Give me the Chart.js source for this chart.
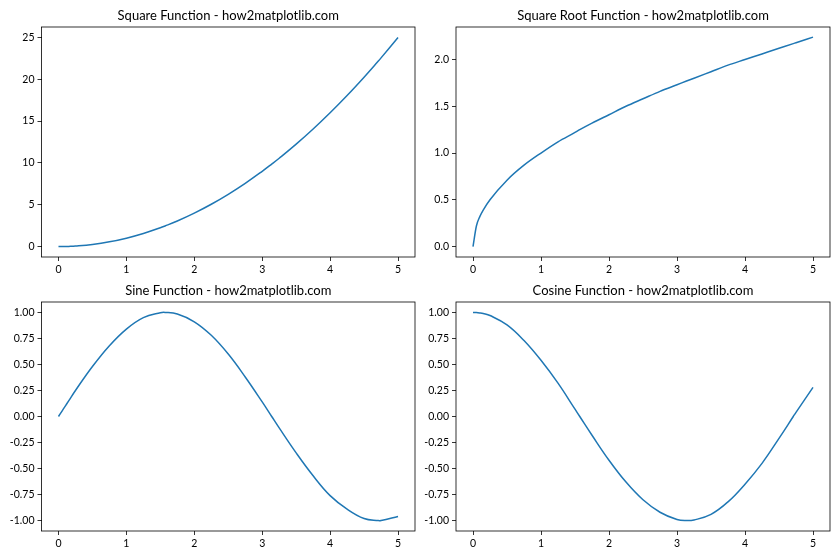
<!DOCTYPE html>
<html>
<head>
<meta charset="utf-8">
<script src="https://cdn.jsdelivr.net/npm/chart.js@4"></script>
<style>
  html, body { margin: 0; padding: 0; background: #fff; }
  #wrap { position: relative; width: 840px; height: 560px; }
  canvas { position: absolute; }
</style>
</head>
<body>
<div id="wrap">
  <canvas id="c1" width="420" height="280" style="left:0;top:0"></canvas>
  <canvas id="c2" width="420" height="280" style="left:420px;top:0"></canvas>
  <canvas id="c3" width="420" height="280" style="left:0;top:280px"></canvas>
  <canvas id="c4" width="420" height="280" style="left:420px;top:280px"></canvas>
</div>
<script>
// values
const xValues = [0, 0.05, 0.1, 0.15, 0.25, 0.5, 0.75, 1, 1.25, 1.5, 1.57, 1.75, 2, 2.25, 2.5, 2.75, 3, 3.14, 3.25, 3.5, 3.75, 4, 4.25, 4.5, 4.71, 4.75, 5];
const squareValues = [0, 0.0025, 0.01, 0.02, 0.06, 0.25, 0.56, 1, 1.56, 2.25, 2.46, 3.06, 4, 5.06, 6.25, 7.56, 9, 9.86, 10.56, 12.25, 14.06, 16, 18.06, 20.25, 22.18, 22.56, 25];
const sqrtValues = [0, 0.22, 0.32, 0.39, 0.5, 0.71, 0.87, 1, 1.12, 1.22, 1.25, 1.32, 1.41, 1.5, 1.58, 1.66, 1.73, 1.77, 1.8, 1.87, 1.94, 2, 2.06, 2.12, 2.17, 2.18, 2.24];
const sineValues = [0, 0.05, 0.1, 0.15, 0.25, 0.48, 0.68, 0.84, 0.95, 0.997, 1.0, 0.984, 0.91, 0.78, 0.6, 0.38, 0.14, 0.0, -0.11, -0.35, -0.57, -0.76, -0.89, -0.98, -1.0, -0.999, -0.96];
const cosineValues = [1, 0.999, 0.995, 0.989, 0.97, 0.88, 0.73, 0.54, 0.32, 0.07, 0.0, -0.18, -0.42, -0.63, -0.8, -0.92, -0.99, -1.0, -0.994, -0.94, -0.82, -0.65, -0.45, -0.21, 0.0, 0.04, 0.28];

const xTicks = [0, 1, 2, 3, 4, 5];
const squareTicks = [0, 5, 10, 15, 20, 25];
const sqrtTicks = [0, 0.5, 1, 1.5, 2];
const trigTicks = [-1, -0.75, -0.5, -0.25, 0, 0.25, 0.5, 0.75, 1];

const fontFam = 'Lato, "Noto Sans", sans-serif';

const frame = {
  id: 'frame',
  afterDatasetsDraw(chart) {
    const a = chart.chartArea;
    const ctx = chart.ctx;
    ctx.save();
    ctx.strokeStyle = '#000';
    ctx.lineWidth = 0.8;
    ctx.strokeRect(a.left, a.top, a.right - a.left, a.bottom - a.top);
    ctx.restore();
  }
};

function makeChart(id, title, ys, yMin, yMax, yTicks, decimals, box, mode) {
  const pts = xValues.map((x, i) => ({ x: x, y: ys[i] }));
  new Chart(document.getElementById(id), {
    type: 'line',
    data: {
      datasets: [{
        data: pts,
        borderColor: '#1f77b4',
        borderWidth: 1.5,
        pointRadius: 0,
        cubicInterpolationMode: mode,
        tension: 0.4,
        fill: false,
      }],
    },
    options: {
      responsive: false,
      animation: false,
      layout: { padding: { left: 0, right: box.right, top: 0, bottom: 0 } },
      plugins: {
        legend: { display: false },
        tooltip: { enabled: false },
        title: {
          display: true,
          fullSize: false,
          text: title,
          color: '#000',
          font: { family: fontFam, size: 13, weight: 'normal' },
          padding: { top: box.tTop, bottom: box.tBottom },
        },
      },
      scales: {
        x: {
          type: 'linear',
          min: -0.25,
          max: 5.25,
          afterBuildTicks: (s) => { s.ticks = xTicks.map((v) => ({ value: v })); },
          afterFit: (s) => { s.height = box.xh; },
          grid: { display: true, drawOnChartArea: false, tickLength: 4, tickColor: '#000', tickWidth: 0.8 },
          border: { display: false },
          ticks: { autoSkip: false, maxRotation: 0, padding: 2, color: '#000', font: { family: fontFam, size: 10.5 },
            callback: (v) => String(v) },
        },
        y: {
          min: yMin,
          max: yMax,
          afterBuildTicks: (s) => { s.ticks = yTicks.map((v) => ({ value: v })); },
          afterFit: (s) => { s.width = box.yw; },
          grid: { display: true, drawOnChartArea: false, tickLength: 4, tickColor: '#000', tickWidth: 0.8 },
          border: { display: false },
          ticks: { autoSkip: false, padding: 3, color: '#000', font: { family: fontFam, size: 10.5 },
            callback: (v) => v.toFixed(decimals) },
        },
      },
    },
    plugins: [frame],
  });
}

const topLeft = { right: 5, tTop: 7.7, tBottom: 3.7, xh: 23, yw: 41.5 };
const topRight = { right: 10, tTop: 7.7, tBottom: 3.7, xh: 23, yw: 36 };
const botLeft = { right: 5, tTop: 3.2, tBottom: 3.2, xh: 29, yw: 41.5 };
const botRight = { right: 10, tTop: 3.2, tBottom: 3.2, xh: 29, yw: 36 };

makeChart('c1', 'Square Function - how2matplotlib.com', squareValues, -1.25, 26.25, squareTicks, 0, topLeft, 'default');
makeChart('c2', 'Square Root Function - how2matplotlib.com', sqrtValues, -0.1118, 2.348, sqrtTicks, 1, topRight, 'monotone');
makeChart('c3', 'Sine Function - how2matplotlib.com', sineValues, -1.1, 1.1, trigTicks, 2, botLeft, 'default');
makeChart('c4', 'Cosine Function - how2matplotlib.com', cosineValues, -1.1, 1.1, trigTicks, 2, botRight, 'default');
</script>
</body>
</html>
